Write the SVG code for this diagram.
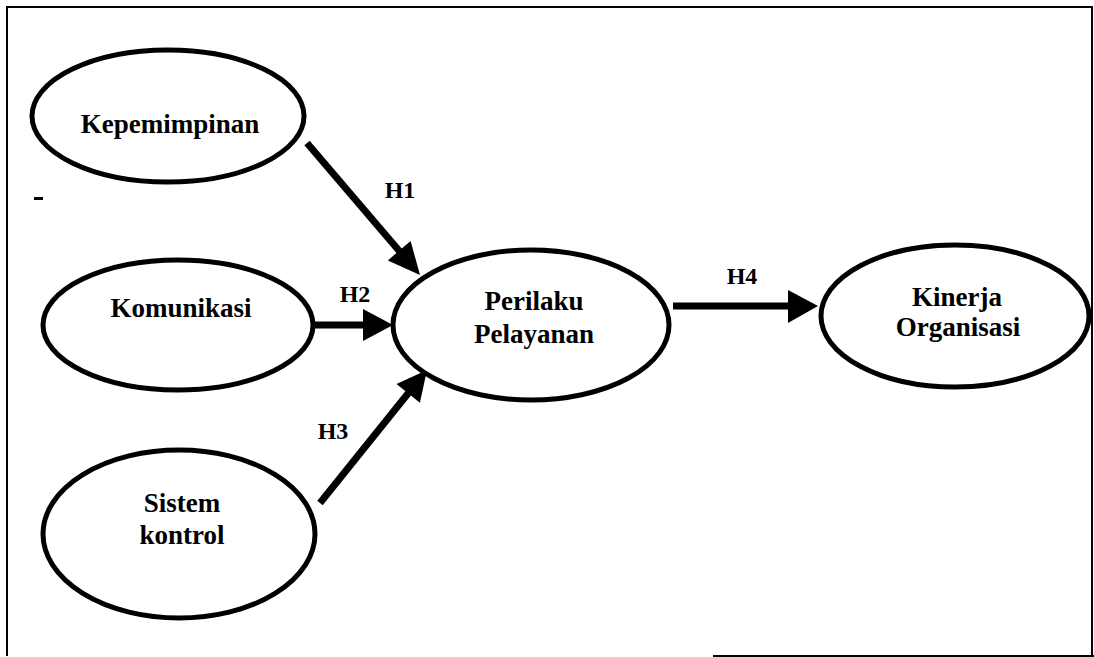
<svg xmlns="http://www.w3.org/2000/svg" width="1094" height="657" viewBox="0 0 1094 657">
  <style>
    .node ellipse { fill: #fff; stroke: #000; stroke-width: 5; }
    .node text, .label { font-family: "Liberation Serif", "Times New Roman", serif; font-weight: bold; fill: #000; text-anchor: middle; }
    .node text { font-size: 27px; }
    .label { font-size: 24px; }
    .edge line { stroke: #000; stroke-width: 7; }
    .edge polygon { fill: #000; }
    .frame { fill: none; stroke: #000; stroke-width: 2; }
  </style>

  <!-- page frame -->
  <g id="frame">
    <polyline class="frame" points="7,656 7,7 1092,7 1092,656"/>
    <line class="frame" x1="713" y1="656" x2="1094" y2="656"/>
    <rect x="34" y="197" width="9" height="3" fill="#000"/>
    <rect x="272" y="96" width="2" height="2" fill="#000"/>
  </g>

  <!-- connectors -->
  <g id="connectors">
    <g class="edge" id="h1">
      <line x1="307" y1="143" x2="401" y2="253"/>
      <polygon points="387.8,260.4 420,275 410.6,240.9"/>
    </g>
    <g class="edge" id="h2">
      <line x1="313" y1="325" x2="366" y2="325"/>
      <polygon points="363,309 393,325 363,341"/>
    </g>
    <g class="edge" id="h3">
      <line x1="320" y1="503" x2="410" y2="391"/>
      <polygon points="419.9,402.8 427,370 396.5,384"/>
    </g>
    <g class="edge" id="h4">
      <line x1="673" y1="306" x2="791" y2="306"/>
      <polygon points="788,290 818,306 788,323"/>
    </g>
    <text class="label" x="400" y="198">H1</text>
    <text class="label" x="355" y="302">H2</text>
    <text class="label" x="333" y="439">H3</text>
    <text class="label" x="742" y="284">H4</text>
  </g>

  <g id="kepemimpinan" class="node">
    <ellipse cx="168" cy="116" rx="136" ry="66"/>
    <text x="170" y="133">Kepemimpinan</text>
  </g>

  <g id="komunikasi" class="node">
    <ellipse cx="178" cy="325" rx="135" ry="65"/>
    <text x="181" y="317">Komunikasi</text>
  </g>

  <g id="sistem-kontrol" class="node">
    <ellipse cx="179" cy="534" rx="136" ry="84"/>
    <text x="182" y="512">Sistem</text>
    <text x="182" y="544">kontrol</text>
  </g>

  <g id="perilaku-pelayanan" class="node">
    <ellipse cx="531" cy="325" rx="138" ry="75"/>
    <text x="534" y="310">Perilaku</text>
    <text x="534" y="343">Pelayanan</text>
  </g>

  <g id="kinerja-organisasi" class="node">
    <ellipse cx="955" cy="316" rx="134" ry="71"/>
    <text x="957" y="306">Kinerja</text>
    <text x="958" y="336">Organisasi</text>
  </g>
</svg>
